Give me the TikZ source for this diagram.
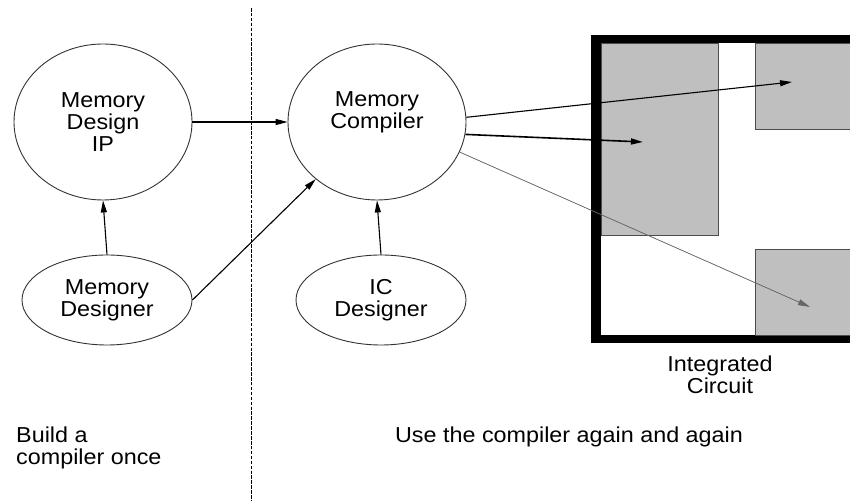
\documentclass[tikz,border=0pt]{standalone}
\usepackage{fontspec}
\setmainfont[FakeStretch=1.08]{Liberation Sans}
\usetikzlibrary{shapes.geometric,arrows.meta}
\begin{document}
\begin{tikzpicture}[
    bubble/.style={ellipse, draw=black!80, line width=0.018cm, inner sep=0pt},
    txt/.style={align=center, font=\fontsize{12.3}{12.7}\selectfont},
    flow/.style={line width=0.022cm, -{Triangle[length=0.24cm,width=0.12cm]}},
    block/.style={fill=black!25, draw=black!70, line width=0.018cm}]
    \useasboundingbox (0.000000,0.000000) rectangle (17.000000,10.020000);
    {
    % Drawing separator line
    \draw [line width=0.018cm, dash pattern=on 2pt off 0.8pt] (5.020000,9.860000) -- (5.020000,0.000000);%

    % Drawing node Memory Design IP
    \node [bubble, minimum width=3.560000cm, minimum height=3.120000cm] (mdip) at (2.060000,7.580000) {};%
    \node [txt] (mdiptext) at (mdip.center) {Memory\\Design\\IP};%

    % Drawing node Memory Designer
    \node [bubble, minimum width=3.400000cm, minimum height=1.800000cm] (md) at (2.140000,4.020000) {};%
    \node [txt] (mdtext) at (md.center) {Memory\\Designer};%

    % Drawing node Memory Compiler
    \node [bubble, minimum width=3.560000cm, minimum height=3.120000cm] (mc) at (7.540000,7.580000) {};%
    \node [txt] (mctext) at (7.540000,7.780000) {Memory\\Compiler};%

    % Drawing node IC Designer
    \node [bubble, minimum width=3.400000cm, minimum height=1.800000cm] (icd) at (7.620000,4.020000) {};%
    \node [txt] (icdtext) at (icd.center) {IC\\Designer};%

    % Drawing integrated circuit
    \begin{scope}
    \clip (0.000000,0.000000) rectangle (17.000000,10.020000);
    \fill [black] (11.820000,3.160000) rectangle (17.400000,9.320000);%
    \fill [white] (12.020000,3.320000) rectangle (17.200000,9.160000);%
    \draw [block] (12.020000,9.160000) rectangle (14.360000,5.320000);%
    \draw [block] (15.100000,9.160000) rectangle (17.300000,7.440000);%
    \draw [block] (15.100000,5.040000) rectangle (17.300000,3.320000);%
    \end{scope}
    \coordinate (ictop) at (15.840000,8.380000);%
    \coordinate (icmid) at (12.860000,7.180000);%
    \coordinate (icbot) at (16.200000,3.880000);%

    % Drawing arrows
    \draw [flow] (mdip.east) -- (mc.west);%
    \draw [flow] (md.north) -- (mdip.south);%
    \draw [flow] (md.east) -- (mc.223);%
    \draw [flow] (icd.north) -- (mc.south);%
    \draw [flow] (mc.3) -- (ictop);%
    \draw [flow, line width=0.032cm] (mc.-8) -- (icmid);%
    \draw [flow, draw=black!60, fill=black!80, line width=0.014cm] (mc.-20) -- (icbot);%

    % Marking labels
    \node [txt] (iclabel) at (14.400000,2.520000) {Integrated\\Circuit};%
    \node [txt, align=left, anchor=west] (buildlabel) at (0.200000,1.060000) {Build a\\compiler once};%
    \node [txt] (uselabel) at (11.380000,1.280000) {Use the compiler again and again};%
    }
\end{tikzpicture}
\end{document}
